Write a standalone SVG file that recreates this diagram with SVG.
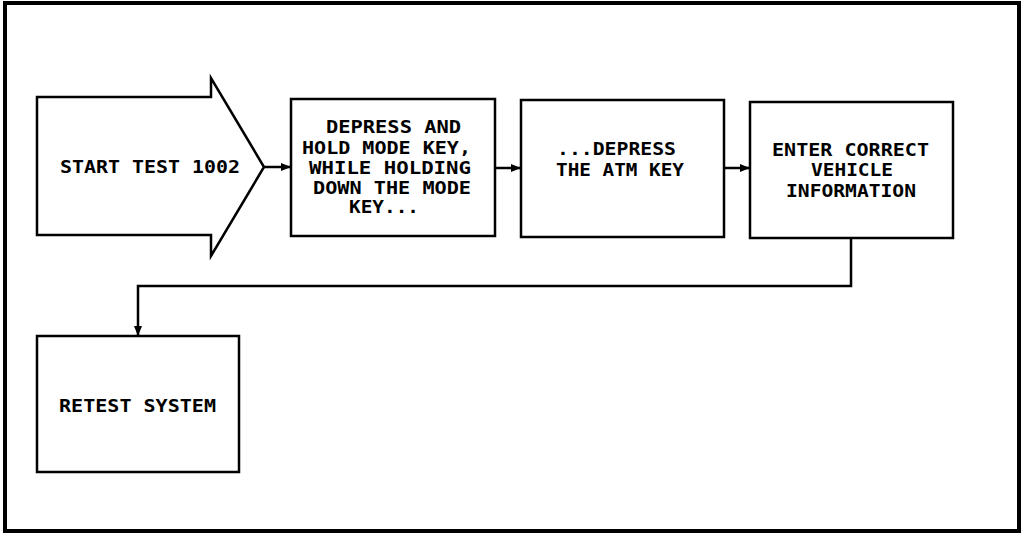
<svg xmlns="http://www.w3.org/2000/svg" width="1024" height="534" viewBox="0 0 1024 534">
<style>
.box{fill:#fff;stroke:#000;stroke-width:2.5}
.t{font-family:"DejaVu Sans Mono","Liberation Mono",monospace;font-size:18px;font-weight:bold;fill:#000}
.c{fill:none;stroke:#000;stroke-width:2.5}
</style>
<defs>
<marker id="ah" markerWidth="10" markerHeight="8" refX="9" refY="4" orient="auto" markerUnits="userSpaceOnUse">
<path d="M0,0 L10,4 L0,8 Z" fill="#000"/>
</marker>
</defs>
<rect width="1024" height="534" fill="#fff"/>
<rect x="5" y="3" width="1014" height="528" fill="none" stroke="#000" stroke-width="4"/>
<g id="start">
<path class="box" d="M37,97 L211,97 L211,78 L264,167 L211,256 L211,235 L37,235 Z"/>
<text class="t" x="60" y="173" textLength="180" lengthAdjust="spacingAndGlyphs">START TEST 1002</text>
</g>
<g id="depress-hold">
<rect class="box" x="291" y="99" width="204" height="137"/>
<text class="t" x="326" y="133" textLength="135" lengthAdjust="spacingAndGlyphs">DEPRESS AND</text>
<text class="t" x="302" y="154" textLength="169" lengthAdjust="spacingAndGlyphs">HOLD MODE KEY,</text>
<text class="t" x="309" y="174" textLength="162" lengthAdjust="spacingAndGlyphs">WHILE HOLDING</text>
<text class="t" x="313" y="194" textLength="158" lengthAdjust="spacingAndGlyphs">DOWN THE MODE</text>
<text class="t" x="349" y="213" textLength="70" lengthAdjust="spacingAndGlyphs">KEY...</text>
</g>
<g id="depress-atm">
<rect class="box" x="521" y="100" width="203" height="137"/>
<text class="t" x="557" y="155" textLength="119" lengthAdjust="spacingAndGlyphs">...DEPRESS</text>
<text class="t" x="556" y="176" textLength="128" lengthAdjust="spacingAndGlyphs">THE ATM KEY</text>
</g>
<g id="enter-info">
<rect class="box" x="750" y="102" width="203" height="136"/>
<text class="t" x="772" y="156" textLength="157" lengthAdjust="spacingAndGlyphs">ENTER CORRECT</text>
<text class="t" x="811" y="176" textLength="82" lengthAdjust="spacingAndGlyphs">VEHICLE</text>
<text class="t" x="786" y="197" textLength="130" lengthAdjust="spacingAndGlyphs">INFORMATION</text>
</g>
<g id="retest">
<rect class="box" x="37" y="336" width="202" height="136"/>
<text class="t" x="59" y="412" textLength="157" lengthAdjust="spacingAndGlyphs">RETEST SYSTEM</text>
</g>
<g id="connectors">
<line class="c" x1="264" y1="167" x2="290" y2="167" marker-end="url(#ah)"/>
<line class="c" x1="495" y1="168" x2="520" y2="168" marker-end="url(#ah)"/>
<line class="c" x1="724" y1="168" x2="749" y2="168" marker-end="url(#ah)"/>
<polyline class="c" points="851,238 851,286 138,286 138,335" marker-end="url(#ah)"/>
</g>
</svg>
